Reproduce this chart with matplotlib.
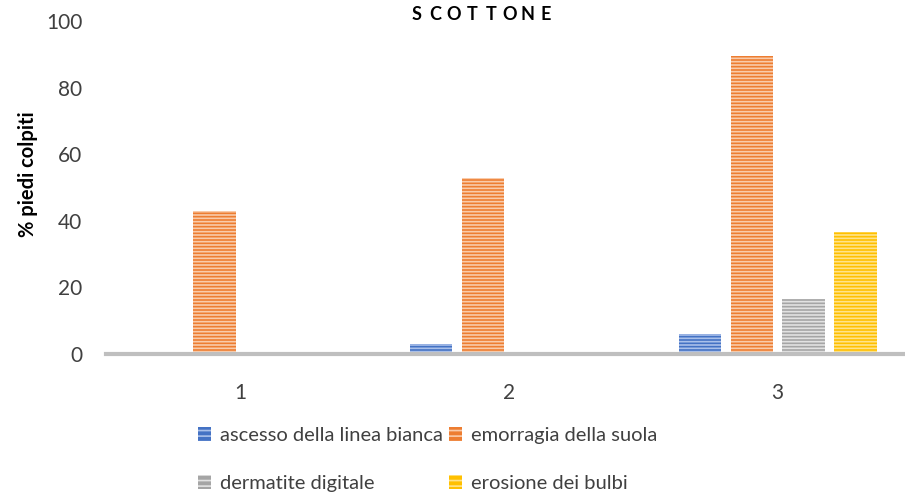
import matplotlib
matplotlib.use("Agg")
import matplotlib.pyplot as plt
from matplotlib.patches import Patch
import numpy as np

plt.rcParams['font.family'] = ['Lato', 'DejaVu Sans']

categories = ["1", "2", "3"]
series_names = ["ascesso della linea bianca", "emorragia della suola",
                "dermatite digitale", "erosione dei bulbi"]
ascesso = [0, 3, 6]
emorragia = [43, 53, 89.5]
dermatite = [0, 0, 16.5]
erosione = [0, 0, 36.5]
series_values = [ascesso, emorragia, dermatite, erosione]
colors = ["#4472C4", "#ED7D31", "#A5A5A5", "#FFC000"]
stripe_colors = ["#A9C0EA", "#F9CBAA", "#E2E2E2", "#FFE38A"]
yticks = [0, 20, 40, 60, 80, 100]
title = "SCOTTONE"

fig = plt.figure(figsize=(9.05, 4.95), dpi=100)
ax = fig.add_axes([106 / 905, 1 - 354 / 495, 806 / 905, (354 - 21) / 495])

x = np.arange(len(categories))
step = 0.193
width = 0.158
plt.rcParams['hatch.linewidth'] = 1.2
for i, (vals, c, sc) in enumerate(zip(series_values, colors, stripe_colors)):
    pos = x + (i - 1.5) * step
    ax.bar(pos, vals, width=width, color=c, linewidth=0, zorder=2)
    ax.bar(pos, vals, width=width, facecolor="none", edgecolor=sc,
           hatch="-----", linewidth=0, zorder=3)

ax.set_xlim(-0.5, 2.5)
ax.set_ylim(0, 100)
ax.set_xticks(x)
ax.set_xticklabels(categories)
ax.set_yticks(yticks)
ax.tick_params(axis='both', length=0, labelsize=15, colors="#404040")
ax.tick_params(axis='x', pad=21)
ax.tick_params(axis='y', pad=17)
for s in ["top", "right", "left"]:
    ax.spines[s].set_visible(False)
ax.spines["bottom"].set_color("#BFBFBF")
ax.spines["bottom"].set_linewidth(3)
ax.spines["bottom"].set_zorder(4)

ax.set_ylabel("% piedi colpiti", fontsize=14.5, fontweight="bold", color="#000000")
ax.yaxis.set_label_coords(-68 / 806, 0.54)

# letter-spaced title
n = len(title)
x0, x1 = 417, 546
for k, ch in enumerate(title):
    xp = x0 + (x1 - x0) * k / (n - 1)
    fig.text(xp / 905, 1 - 14 / 495, ch, ha="center", va="center",
             fontsize=13, fontweight="bold", color="#000000")

handles = [Patch(facecolor=c, edgecolor=sc, hatch="---", linewidth=0)
           for c, sc in zip(colors, stripe_colors)]
# legend fills column-first; reorder so entries read across rows
order = [0, 2, 1, 3]
fig.legend([handles[k] for k in order], [series_names[k] for k in order],
           ncol=2, loc="upper left",
           bbox_to_anchor=(198 / 905, 1 - 427 / 495), frameon=False,
           borderpad=0, borderaxespad=0,
           fontsize=14.5, handlelength=0.65, handleheight=0.65,
           handletextpad=0.45, columnspacing=0.3, labelspacing=1.55,
           labelcolor="#404040")

fig.savefig("out.png", dpi=100)
